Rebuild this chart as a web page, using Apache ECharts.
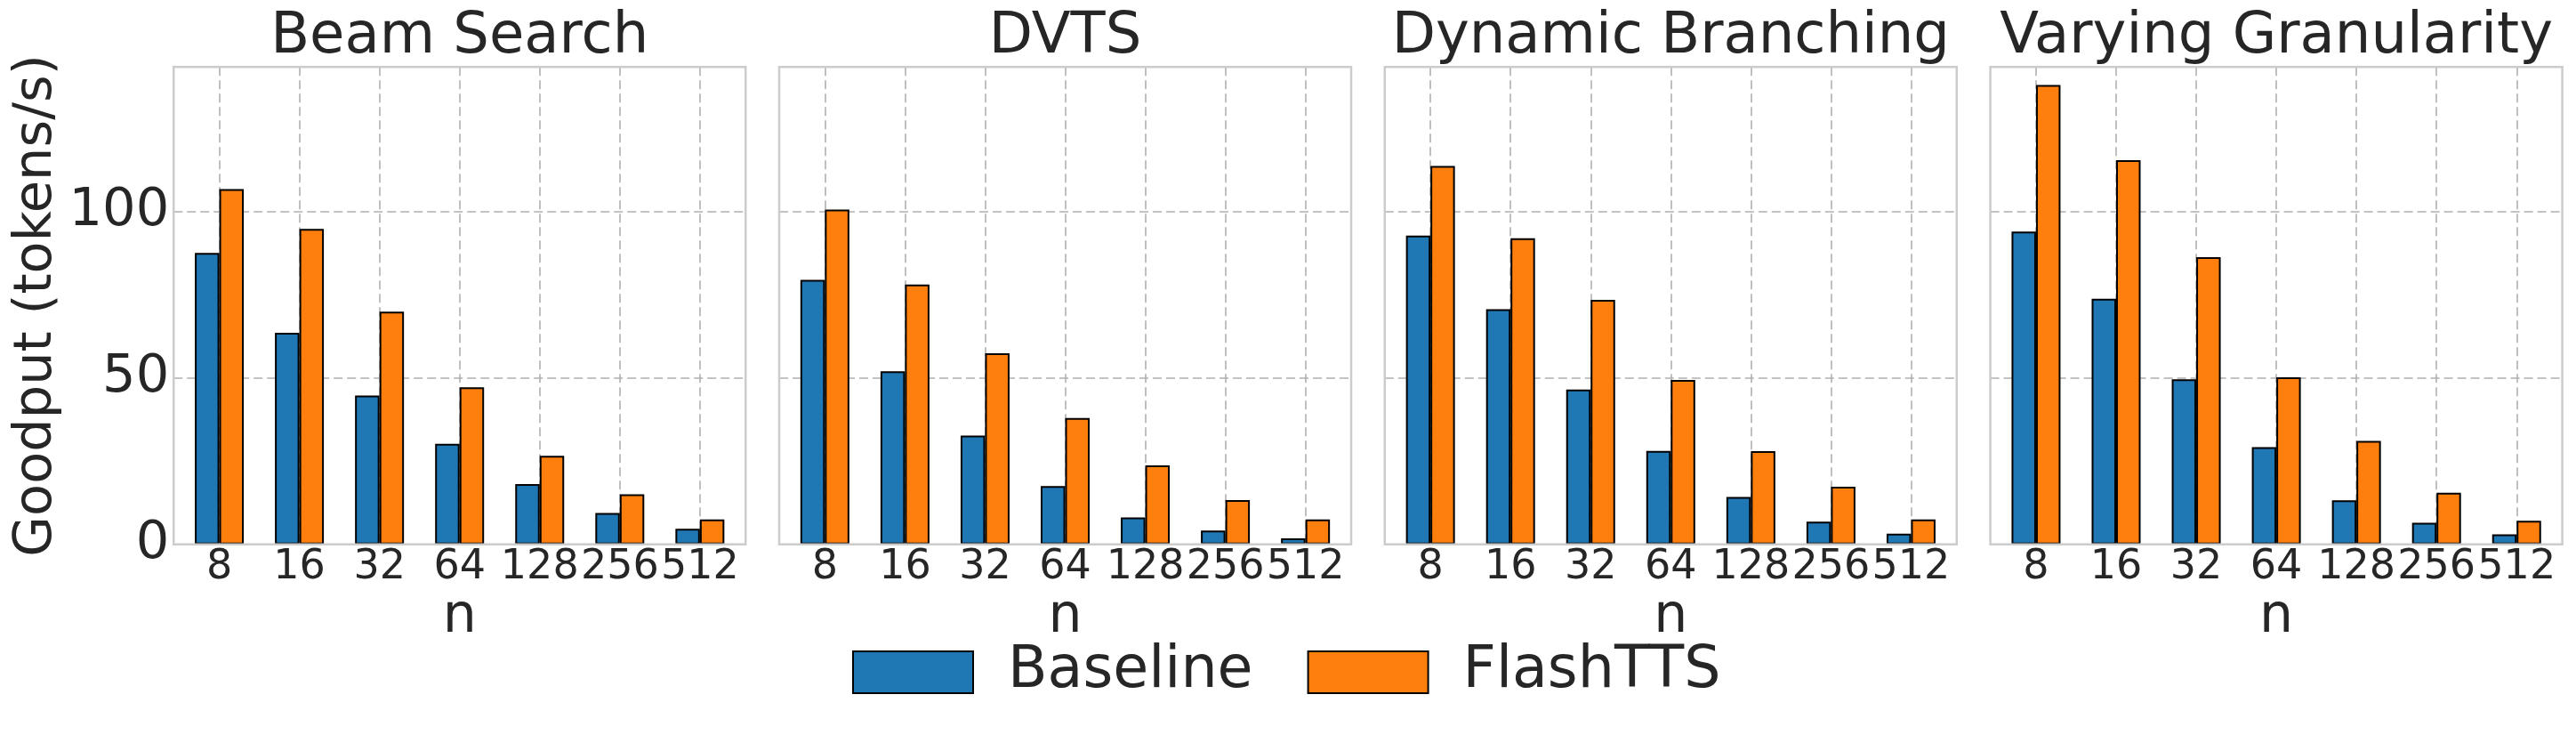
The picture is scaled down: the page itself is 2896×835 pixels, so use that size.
<!DOCTYPE html>
<html>
<head>
<meta charset="utf-8">
<title>Goodput vs n</title>
<script src="https://cdn.jsdelivr.net/npm/echarts@6/dist/echarts.min.js"></script>
<style>
  html, body { margin: 0; padding: 0; background: #fff; }
  #chart { width: 2896px; height: 835px; }
</style>
</head>
<body>
<div id="chart"></div>
<script>
  // data
  const nValues = ['8', '16', '32', '64', '128', '256', '512'];
  const methods = ['Beam Search', 'DVTS', 'Dynamic Branching', 'Varying Granularity'];

  const beamBaseline = [87.6, 63.6, 44.7, 30.2, 18.1, 9.4, 4.7];
  const beamFlash = [106.8, 94.8, 69.9, 47.2, 26.6, 15.0, 7.5];
  const dvtsBaseline = [79.5, 52.0, 32.7, 17.5, 8.1, 4.1, 1.8];
  const dvtsFlash = [100.6, 78.1, 57.4, 38.0, 23.7, 13.3, 7.5];
  const dynBaseline = [92.8, 70.7, 46.5, 28.1, 14.2, 6.8, 3.2];
  const dynFlash = [113.7, 92.0, 73.5, 49.4, 28.0, 17.3, 7.5];
  const varBaseline = [94.0, 73.8, 49.6, 29.2, 13.2, 6.5, 3.0];
  const varFlash = [138.1, 115.5, 86.3, 50.2, 31.1, 15.5, 7.1];

  const yTicks = [0, 50, 100];
  const yMax = 143.5;

  const baselineSets = [beamBaseline, dvtsBaseline, dynBaseline, varBaseline];
  const flashSets = [beamFlash, dvtsFlash, dynFlash, varFlash];

  const FONT = 'DejaVu Sans';
  const TEXT = '#262626';
  const gridLine = { color: '#b0b0b0', width: 1.6, type: [10, 5] };

  // panel layout (px)
  const panelLeft = 195.2, panelStep = 680.8, panelW = 643;
  const panelTop = 75.2, panelH = 536.5;
  const band = 90.05;

  const grid = [], xAxis = [], yAxis = [], series = [], graphic = [];

  methods.forEach((name, i) => {
    const left = panelLeft + i * panelStep;
    const first = left + (panelW - 6 * band) / 2;
    const g0 = i * 3;

    // frame grid: horizontal lines + y labels
    grid.push({ left: left, top: panelTop, width: panelW, height: panelH, outerBoundsMode: 'none' });
    // bar grid
    grid.push({ left: first - band / 2, top: panelTop, width: 7 * band, height: panelH, outerBoundsMode: 'none' });
    // vertical grid lines at group centres
    grid.push({ left: first, top: panelTop, width: 6 * band, height: panelH, outerBoundsMode: 'none' });

    xAxis.push({ gridIndex: g0, type: 'value', min: 0, max: 1, show: false });
    yAxis.push({
      gridIndex: g0, type: 'value', min: 0, max: yMax, interval: 50,
      axisLine: { show: false }, axisTick: { show: false },
      axisLabel: {
        show: i === 0, fontSize: 59, color: TEXT, fontFamily: FONT, margin: 5,
        formatter: v => yTicks.includes(v) ? String(v) : ''
      },
      splitLine: { show: true, lineStyle: gridLine },
      name: i === 0 ? 'Goodput (tokens/s)' : '',
      nameLocation: 'middle', nameGap: 124, nameRotate: 90, nameMoveOverlap: false,
      nameTextStyle: { fontSize: 59, color: TEXT, fontFamily: FONT }
    });

    xAxis.push({
      gridIndex: g0 + 1, type: 'category', data: nValues, boundaryGap: true,
      axisLine: { show: false }, axisTick: { show: false }, splitLine: { show: false },
      axisLabel: { interval: 0, fontSize: 46, color: TEXT, fontFamily: FONT, margin: 3 },
      name: 'n', nameLocation: 'middle', nameGap: 53, nameMoveOverlap: false,
      nameTextStyle: { fontSize: 60, color: TEXT, fontFamily: FONT }
    });
    yAxis.push({ gridIndex: g0 + 1, type: 'value', min: 0, max: yMax, show: false });

    xAxis.push({
      gridIndex: g0 + 2, type: 'category', data: nValues, boundaryGap: false,
      axisLine: { show: false }, axisTick: { show: false },
      axisLabel: { show: false, interval: 0 },
      splitLine: { show: true, interval: 0, lineStyle: gridLine }
    });
    yAxis.push({ gridIndex: g0 + 2, type: 'value', min: 0, max: yMax, show: false });

    series.push({
      name: 'Baseline', type: 'bar', xAxisIndex: g0 + 1, yAxisIndex: g0 + 1,
      data: baselineSets[i], barWidth: 27.5, barGap: '0%',
      itemStyle: { color: '#1f77b4', borderColor: '#000', borderWidth: 2 }
    });
    series.push({
      name: 'FlashTTS', type: 'bar', xAxisIndex: g0 + 1, yAxisIndex: g0 + 1,
      data: flashSets[i], barWidth: 27.5, barGap: '0%',
      itemStyle: { color: '#ff7f0e', borderColor: '#000', borderWidth: 2 }
    });

    // panel frame, drawn above the bars like the matplotlib spines
    graphic.push({
      type: 'rect', z: 50, silent: true,
      shape: { x: left, y: panelTop, width: panelW, height: panelH },
      style: { fill: 'none', stroke: '#cccccc', lineWidth: 2.5 }
    });
    graphic.push({
      type: 'text', z: 50, silent: true, x: left + panelW / 2, y: 42,
      style: {
        text: name, fontSize: 64, fontFamily: FONT, fill: TEXT,
        align: 'center', verticalAlign: 'middle'
      }
    });
  });

  const chart = echarts.init(document.getElementById('chart'));
  chart.setOption({
    animation: false,
    backgroundColor: '#fff',
    legend: {
      data: ['Baseline', 'FlashTTS'],
      left: 958, top: 723, padding: 0,
      itemWidth: 135, itemHeight: 47, itemGap: 61,
      icon: 'rect', selectedMode: false,
      itemStyle: { borderColor: '#000', borderWidth: 2 },
      textStyle: { fontSize: 65, color: TEXT, fontFamily: FONT, padding: [0, 0, 0, 34] }
    },
    grid: grid,
    xAxis: xAxis,
    yAxis: yAxis,
    series: series,
    graphic: graphic
  });
</script>
</body>
</html>
